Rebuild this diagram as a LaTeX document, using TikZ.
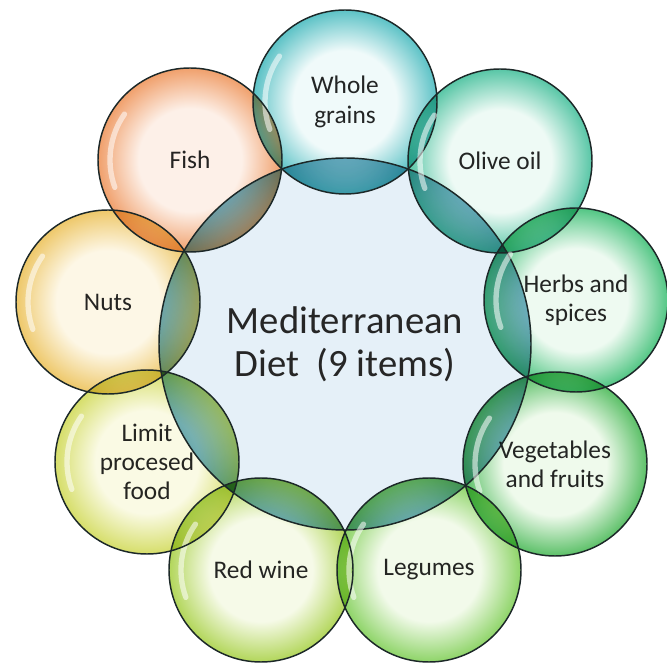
\documentclass[tikz,border=0pt]{standalone}
\usepackage{fontspec}
\setmainfont{Carlito}
\usepackage{tikz}
\usetikzlibrary{positioning}
\usepackage{xcolor}

\definecolor{txt}{HTML}{262626}
\definecolor{outl}{HTML}{1C2828}
\definecolor{hubfill}{HTML}{E5F0F8}
\definecolor{lensrim}{HTML}{7CB9C8}
\definecolor{wgrim}{HTML}{5CC2C6}\definecolor{wgin}{HTML}{F0FAFA}
\definecolor{oorim}{HTML}{58C6A6}\definecolor{ooin}{HTML}{EEFAF5}
\definecolor{hsrim}{HTML}{52C684}\definecolor{hsin}{HTML}{EEFAF1}
\definecolor{vfrim}{HTML}{5CC068}\definecolor{vfin}{HTML}{EFFAEC}
\definecolor{lgrim}{HTML}{8ED468}\definecolor{lgin}{HTML}{F2FAEA}
\definecolor{rwrim}{HTML}{B2D65A}\definecolor{rwin}{HTML}{F6FAE8}
\definecolor{lprim}{HTML}{D6DE6A}\definecolor{lpin}{HTML}{FAFAE4}
\definecolor{nurim}{HTML}{EEC86A}\definecolor{nuin}{HTML}{FDF7E6}
\definecolor{firim}{HTML}{F0A06C}\definecolor{fiin}{HTML}{FDF0E8}
\colorlet{bubin}{white}\colorlet{bubout}{white}
\pgfdeclareradialshading[bubin,bubout]{bubshade}{\pgfpointorigin}{color(0bp)=(bubin); color(14bp)=(bubin); color(25bp)=(bubout); color(50bp)=(bubout)}

\begin{document}
\begin{tikzpicture}[x=0.75pt, y=0.75pt,
  bub/.style={circle, minimum size=138pt, inner sep=0pt, align=center, text=txt,
              font=\fontsize{19}{22}\selectfont, shading=bubshade,
              /utils/exec={\colorlet{bubin}{#1in}\colorlet{bubout}{#1rim}}},
  hub/.style={circle, minimum size=279pt, inner sep=0pt, align=center, text=txt,
              fill=hubfill, font=\fontsize{29}{32}\selectfont},
  lens/.style={shading=bubshade, /utils/exec={\colorlet{bubin}{white}\colorlet{bubout}{lensrim}}},
  rim/.style={draw=outl, line width=1.1pt},
  gloss/.style={draw=white, line width=4pt, line cap=round, opacity=0.55},
  ]
  \useasboundingbox (0,0) rectangle (667,664);
  \node[hub] (hub) at (345,320) {Mediterranean\\Diet\ \ (9 items)};

  \begin{scope}[blend mode=multiply]
    \node[bub=wg] (wg) at (345,562) {Whole\\grains};
    \node[bub=oo] (oo) at (500,503) {Olive oil};
    \node[bub=hs] (hs) at (576,364) {Herbs and\\spices};
    \node[bub=vf] (vf) at (555,200) {Vegetables\\and fruits};
    \node[bub=lg] (lg) at (429,94) {Legumes};
    \node[bub=rw] (rw) at (261,94) {Red wine};
    \node[bub=lp] (lp) at (147,202) {Limit\\procesed\\food};
    \node[bub=nu] (nu) at (108,362) {Nuts};
    \node[bub=fi] (fi) at (190,504) {Fish};
    \foreach \n in {wg,oo,hs,vf,lg,rw,lp,nu,fi}{
      \begin{scope}
        \clip (\n.center) circle[radius=92];
        \shade[lens] (hub.center) circle[radius=186];
      \end{scope}
    }
  \end{scope}

  \draw[rim] (hub.center) circle[radius=186];
  \foreach \n in {wg,oo,hs,vf,lg,rw,lp,nu,fi}{
    \draw[rim] (\n.center) circle[radius=92];
    \draw[gloss] (\n.center) ++(145:80) arc[start angle=145, end angle=200, radius=80];
  }
\end{tikzpicture}
\end{document}
